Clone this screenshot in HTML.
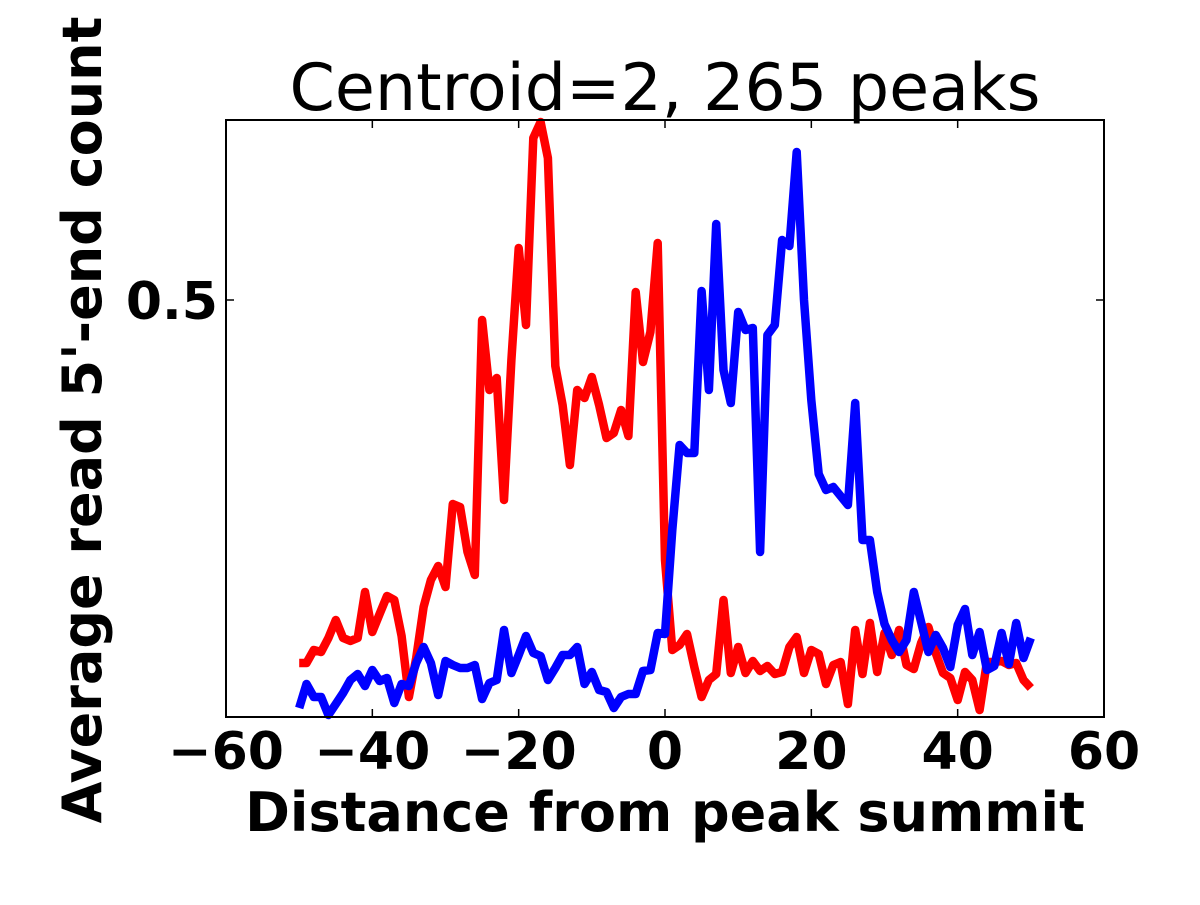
<!DOCTYPE html>
<html><head><meta charset="utf-8"><style>
html,body{margin:0;padding:0;background:#fff;}
svg text{font-family:"DejaVu Sans","Liberation Sans",sans-serif;}
</style></head><body>
<svg id="chart" width="1200" height="900" xmlns="http://www.w3.org/2000/svg">
<rect width="1200" height="900" fill="#fff"/>
<text x="665" y="110" text-anchor="middle" font-size="65">Centroid=2, 265 peaks</text>
<g id="marks"></g>
<rect x="226" y="120" width="878" height="597" fill="none" stroke="#000" stroke-width="2"/>
<g id="ticks"></g>
<text x="665" y="831" text-anchor="middle" font-size="54" font-weight="bold">Distance from peak summit</text>
<text transform="translate(101,420) rotate(-90)" text-anchor="middle" font-size="54" font-weight="bold">Average read 5'-end count</text>
</svg>
<script>
const xs = [];
for (let i = -50; i <= 50; i++) xs.push(i);
const redValues = [0.137,0.137,0.150,0.148,0.162,0.180,0.162,0.159,0.162,0.208,
0.168,0.186,0.204,0.200,0.164,0.103,0.142,0.193,0.220,0.234,
0.213,0.296,0.293,0.248,0.225,0.480,0.410,0.422,0.300,0.440,
0.552,0.475,0.662,0.678,0.642,0.434,0.395,0.335,0.410,0.402,
0.423,0.395,0.362,0.367,0.390,0.364,0.508,0.438,0.468,0.557,
0.240,0.150,0.155,0.166,0.133,0.103,0.120,0.126,0.200,0.127,
0.153,0.127,0.139,0.129,0.134,0.126,0.128,0.153,0.163,0.127,
0.150,0.146,0.116,0.135,0.138,0.096,0.170,0.126,0.177,0.128,
0.167,0.145,0.170,0.135,0.131,0.157,0.173,0.147,0.127,0.122,
0.100,0.128,0.120,0.090,0.138,0.138,0.139,0.135,0.137,0.120,0.112];
const blueValues = [0.092,0.116,0.103,0.103,0.085,0.096,0.107,0.120,0.126,0.114,
0.130,0.119,0.122,0.097,0.116,0.114,0.137,0.153,0.137,0.105,
0.139,0.135,0.132,0.132,0.135,0.101,0.117,0.120,0.170,0.127,
0.145,0.164,0.147,0.144,0.120,0.132,0.145,0.145,0.153,0.116,
0.128,0.110,0.108,0.092,0.103,0.106,0.106,0.129,0.130,0.167,
0.166,0.270,0.355,0.347,0.347,0.509,0.410,0.576,0.430,0.397,
0.488,0.470,0.472,0.248,0.465,0.475,0.560,0.554,0.648,0.500,
0.400,0.326,0.310,0.313,0.304,0.295,0.397,0.260,0.260,0.208,
0.176,0.160,0.148,0.160,0.208,0.178,0.148,0.165,0.152,0.133,
0.175,0.191,0.145,0.168,0.130,0.134,0.167,0.136,0.177,0.142,0.162];
const xTicks = [-60,-40,-20,0,20,40,60];
const xTickLabels = ["\u221260","\u221240","\u221220","0","20","40","60"];
const yTicks = [0.5];
const yTickLabels = ["0.5"];

const NS = "http://www.w3.org/2000/svg";
const L=226,R=1104,T=120,B=717;
const xMin=-60,xMax=60,yMin=0.083,yMax=0.68;
function sx(v){return L+(v-xMin)/(xMax-xMin)*(R-L);}
function sy(v){return B-(v-yMin)/(yMax-yMin)*(B-T);}

const marks=document.getElementById('marks');
function drawLine(vals,color,name){
  const p=document.createElementNS(NS,'polyline');
  p.setAttribute('points',vals.map((v,i)=>sx(xs[i]).toFixed(1)+','+sy(v).toFixed(1)).join(' '));
  p.setAttribute('fill','none');p.setAttribute('stroke',color);
  p.setAttribute('stroke-width','8.5');p.setAttribute('stroke-linejoin','round');
  
  
  marks.appendChild(p);
}
drawLine(redValues,'#ff0000','red-series-line');
drawLine(blueValues,'#0000ff','blue-series-line');

const tg=document.getElementById('ticks');
xTicks.forEach((t,i)=>{
  const x=sx(t);
  [[B,B-8],[T,T+8]].forEach(([a,b])=>{
    const l=document.createElementNS(NS,'line');
    l.setAttribute('x1',x);l.setAttribute('x2',x);l.setAttribute('y1',a);l.setAttribute('y2',b);
    l.setAttribute('stroke','#000');l.setAttribute('stroke-width','1.5');
    
    
    tg.appendChild(l);
  });
  const tx=document.createElementNS(NS,'text');
  tx.setAttribute('x',x);tx.setAttribute('y',B+52);tx.setAttribute('text-anchor','middle');
  tx.setAttribute('font-size','52');tx.setAttribute('font-weight','bold');
  tx.textContent=xTickLabels[i];
  
  
  tg.appendChild(tx);
});
yTicks.forEach((t,i)=>{
  const y=sy(t);
  [[L,L+8],[R,R-8]].forEach(([a,b])=>{
    const l=document.createElementNS(NS,'line');
    l.setAttribute('x1',a);l.setAttribute('x2',b);l.setAttribute('y1',y);l.setAttribute('y2',y);
    l.setAttribute('stroke','#000');l.setAttribute('stroke-width','1.5');
    
    
    tg.appendChild(l);
  });
  const tx=document.createElementNS(NS,'text');
  tx.setAttribute('x',L-8);tx.setAttribute('y',y+19);tx.setAttribute('text-anchor','end');
  tx.setAttribute('font-size','52');tx.setAttribute('font-weight','bold');
  tx.textContent=yTickLabels[i];
  
  
  tg.appendChild(tx);
});
</script>
</body></html>
